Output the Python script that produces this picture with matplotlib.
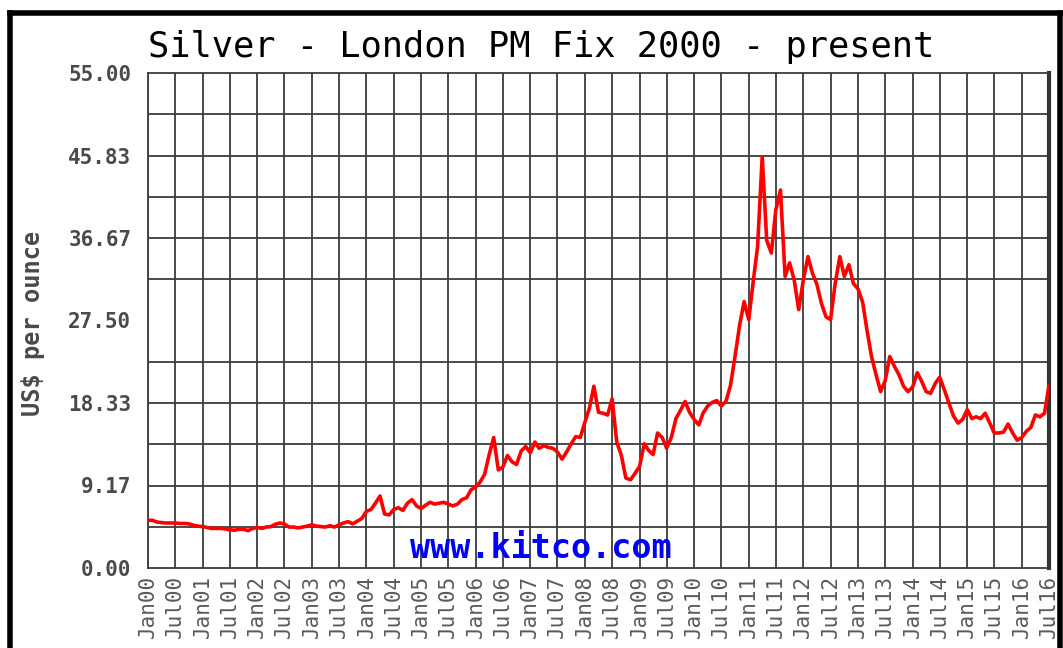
import matplotlib
matplotlib.use('Agg')
import matplotlib.pyplot as plt
from matplotlib.lines import Line2D
import numpy as np
import pandas as pd

# monthly London PM fix (US$/oz), Jan 2000 .. Jul 2016
p2000 = [5.3, 5.3, 5.1, 5.05, 5.0, 5.0, 5.0, 4.95, 4.95, 4.9, 4.75, 4.65]
p2001 = [4.6, 4.5, 4.4, 4.4, 4.4, 4.35, 4.25, 4.2, 4.3, 4.3, 4.15, 4.4]
p2002 = [4.5, 4.4, 4.55, 4.6, 4.85, 5.0, 4.9, 4.55, 4.55, 4.45, 4.55, 4.65]
p2003 = [4.8, 4.65, 4.6, 4.55, 4.7, 4.55, 4.8, 5.0, 5.15, 4.9, 5.2, 5.5]
p2004 = [6.3, 6.5, 7.2, 8.0, 6.0, 5.9, 6.5, 6.7, 6.4, 7.2, 7.6, 6.9]
p2005 = [6.6, 7.0, 7.3, 7.1, 7.2, 7.3, 7.1, 6.9, 7.1, 7.6, 7.8, 8.7]
p2006 = [9.0, 9.6, 10.4, 12.6, 14.5, 10.9, 11.2, 12.5, 11.8, 11.5, 13.0, 13.5]
p2007 = [12.8, 14.0, 13.3, 13.6, 13.4, 13.3, 12.9, 12.1, 12.9, 13.8, 14.6, 14.5]
p2008 = [16.2, 17.8, 20.2, 17.3, 17.2, 17.0, 18.8, 14.0, 12.5, 10.0, 9.8, 10.5]
p2009 = [11.3, 13.8, 13.1, 12.6, 15.0, 14.5, 13.3, 14.5, 16.6, 17.5, 18.5, 17.3]
p2010 = [16.5, 15.9, 17.2, 18.0, 18.4, 18.6, 18.0, 18.5, 20.3, 23.5, 27.0, 29.6]
p2011 = [27.6, 32.0, 35.7, 45.7, 36.4, 35.0, 39.8, 42.0, 32.4, 33.9, 32.0, 28.7]
p2012 = [32.0, 34.6, 32.8, 31.5, 29.4, 27.9, 27.6, 31.6, 34.6, 32.4, 33.7, 31.6]
p2013 = [31.0, 29.5, 26.5, 23.5, 21.5, 19.6, 20.8, 23.5, 22.4, 21.5, 20.2, 19.6]
p2014 = [20.1, 21.7, 20.8, 19.6, 19.4, 20.5, 21.2, 19.8, 18.3, 16.9, 16.1, 16.5]
p2015 = [17.6, 16.6, 16.8, 16.6, 17.2, 16.1, 15.0, 15.0, 15.1, 16.0, 15.0, 14.2]
p2016 = [14.5, 15.2, 15.6, 17.0, 16.8, 17.2, 20.3]

prices = (p2000 + p2001 + p2002 + p2003 + p2004 + p2005 + p2006 + p2007 +
          p2008 + p2009 + p2010 + p2011 + p2012 + p2013 + p2014 + p2015 + p2016)
dates = pd.date_range('2000-01-01', periods=len(prices), freq='MS')

y_ticks = [0.00, 9.17, 18.33, 27.50, 36.67, 45.83, 55.00]
y_tick_labels = ['0.00', '9.17', '18.33', '27.50', '36.67', '45.83', '55.00']
x_ticks = pd.date_range('2000-01-01', '2016-07-01', freq='6MS')
x_tick_labels = [d.strftime('%b%y') for d in x_ticks]

W, H = 1063, 648
fig = plt.figure(figsize=(W / 100, H / 100), dpi=100)
fig.patch.set_facecolor('white')

# plot area in pixels: x 148..1049, y 73..568
ax = fig.add_axes([148 / W, 1 - 568 / H, (1049 - 148) / W, (568 - 73) / H])

grid_c = '#3c3c3c'
mono = 'DejaVu Sans Mono'

ax.plot(dates, prices, color='#ff0000', lw=2.6, zorder=3)

ax.set_xlim(pd.Timestamp('2000-01-01'), pd.Timestamp('2016-07-01'))
ax.set_ylim(0, 55)

ax.set_yticks(y_ticks)
ax.set_yticklabels(y_tick_labels, fontfamily=mono, fontweight='bold',
                   fontsize=15, color='#4a4a4a')
ax.set_yticks(np.linspace(0, 55, 13), minor=True)
ax.set_xticks(x_ticks)
ax.set_xticklabels(x_tick_labels, rotation=90, fontfamily=mono,
                   fontsize=15, color='#5a5a5a', va='top', ha='center')

ax.tick_params(axis='both', which='both', length=0)
ax.tick_params(axis='y', pad=12)
ax.tick_params(axis='x', pad=5)

# vertical lines every half year, horizontal lines every 55/12
ax.grid(True, axis='x', which='major', color=grid_c, lw=1.3, zorder=1)
ax.grid(True, axis='y', which='minor', color=grid_c, lw=1.3, zorder=1)
ax.grid(False, axis='y', which='major')

for side in ['left', 'bottom', 'top']:
    ax.spines[side].set_color(grid_c)
    ax.spines[side].set_linewidth(1.3)
ax.spines['right'].set_color('#333333')
ax.spines['right'].set_linewidth(3)

# watermark
ax.text(0.436, 0.006, 'www.kitco.com', transform=ax.transAxes,
        ha='center', va='bottom', fontfamily=mono, fontweight='bold',
        fontsize=24, color='#0000ff', zorder=4)

# title and axis label
fig.text(148 / W, 1 - 57 / H, 'Silver - London PM Fix 2000 - present',
         ha='left', va='baseline', fontfamily=mono, fontsize=25.5, color='black')
fig.text(33 / W, 1 - 323 / H, 'US$ per ounce', rotation=90,
         ha='center', va='center', fontfamily=mono, fontweight='bold',
         fontsize=17, color='#4a4a4a')

# thick black frame around the whole chart
fig.add_artist(Line2D([10 / W, 1061 / W], [1 - 13 / H, 1 - 13 / H],
                      transform=fig.transFigure, color='black', lw=4))
fig.add_artist(Line2D([10 / W, 10 / W], [0, 1 - 13 / H],
                      transform=fig.transFigure, color='black', lw=4))
fig.add_artist(Line2D([1060 / W, 1060 / W], [0, 1 - 13 / H],
                      transform=fig.transFigure, color='black', lw=4))

fig.savefig('out.png', dpi=100, facecolor='white')
